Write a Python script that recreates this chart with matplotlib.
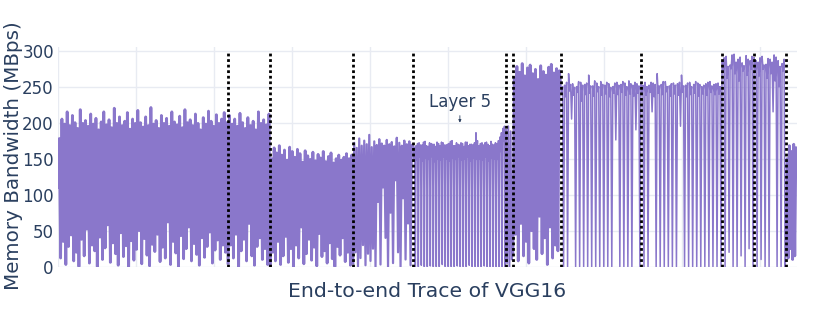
import numpy as np
import matplotlib
matplotlib.use("Agg")
import matplotlib.pyplot as plt

# ---------------- data ----------------
# layer boundaries (trace time units) and end of trace
boundaries = [2.18, 2.72, 3.78, 4.55, 5.74, 5.83, 6.44, 7.47, 8.51, 8.92, 9.33]
trace_end = 9.47

# dense segments (lo/hi alternating)
A_lo = [110, 12, 35, 3, 28, 44, 8, 20, 0, 38, 15, 52, 5, 30, 22, 0, 41, 10, 26, 58, 6, 33, 18, 2, 47, 14, 29, 0, 36, 9,
        24, 50, 4, 39, 16, 1, 31, 21, 45, 7, 27, 12, 62, 3, 35, 19, 0, 43, 11, 25, 55, 8, 32, 17, 2, 40, 13, 28, 48, 5,
        23, 37, 10, 30, 20]
A_hi = [178, 205, 198, 215, 196, 210, 200, 192, 218, 199, 203, 195, 212, 198, 206, 190, 201, 215, 197, 204, 193, 220,
        199, 208, 196, 202, 214, 191, 205, 199, 217, 200, 194, 208, 196, 221, 198, 203, 192, 210, 199, 206, 195, 215,
        201, 197, 209, 193, 218, 200, 204, 196, 212, 199, 190, 207, 198, 216, 202, 195, 211, 199, 205, 214, 200]
B_lo = [5, 30, 12, 45, 0, 22, 38, 8, 60, 15, 2, 28, 40, 10, 25, 3]
B_hi = [210, 198, 205, 195, 213, 200, 192, 207, 196, 202, 190, 215, 199, 204, 197, 212]
C_lo = [0, 20, 8, 35, 3, 15, 42, 6, 25, 0, 30, 12, 55, 4, 18, 38, 9, 27, 1, 46, 14, 22, 5, 33, 11, 0, 28, 16, 40, 7,
        20, 2]
C_hi = [150, 165, 158, 168, 155, 162, 148, 166, 160, 152, 163, 157, 145, 161, 154, 149, 159, 147, 156, 151, 160, 146,
        153, 158, 144, 150, 155, 148, 152, 157, 150, 155]
D_lo = [5, 20, 0, 12, 30, 2, 18, 8, 25, 0, 90, 3, 110, 40, 0, 75, 5, 120, 20, 0, 95, 10, 60, 2]
D_hi = [172, 165, 178, 168, 175, 170, 183, 166, 174, 169, 177, 171, 168, 176, 170, 173, 167, 179, 172, 168, 175, 170,
        174, 169]
# band segments: top / mid / top2 / dip per cycle
E_top = [170, 168, 172, 169, 174, 167, 171, 170, 173, 168, 172, 169, 171, 175, 168, 170, 172, 167, 173, 170, 169, 186,
         168, 172, 172, 170, 174, 169, 171, 180, 192]
E_mid = [150, 148, 152, 147, 151, 149, 153, 146, 150, 148, 152, 150, 147, 151, 149, 153, 148, 150, 152, 147, 151, 149,
         150, 148, 152, 147, 151, 150, 149, 160, 175]
E_top2 = [166, 171, 169, 173, 168, 172, 170, 167, 171, 173, 169, 170, 174, 168, 172, 169, 171, 173, 168, 170, 172, 175,
          171, 169, 173, 168, 170, 172, 175, 186, 195]
E_dip = [0, 0, 2, 0, 0, 1, 0, 0, 0, 3, 0, 0, 0, 0, 1, 0, 0, 0, 2, 0, 0, 0, 0, 1, 0, 0, 0, 0, 0, 0, 0]
F_vals = [190, 5, 195, 0, 188, 10]
G_lo = [20, 45, 8, 60, 15, 35, 5, 50, 25, 10, 70, 18, 40, 3, 55, 12, 30, 22]
G_hi = [262, 278, 270, 282, 265, 276, 280, 268, 274, 260, 279, 271, 266, 277, 281, 269, 275, 272]
H_top = [255, 252, 268, 254, 250, 256, 253, 266, 251, 255, 257, 252, 254, 250, 256, 253, 255, 258, 252, 254]
H_mid = [240, 236, 244, 238, 242, 230, 239, 241, 237, 243, 238, 240, 236, 241, 239, 242, 238, 240, 237, 241]
H_top2 = [250, 256, 253, 249, 257, 252, 255, 251, 258, 250, 253, 256, 249, 255, 252, 257, 250, 254, 256, 251]
H_dip = [0, 0, 205, 0, 0, 0, 0, 0, 0, 0, 0, 0, 0, 176, 0, 0, 0, 0, 190, 0]
I_top = [254, 256, 252, 255, 268, 253, 257, 251, 255, 254, 266, 252, 256, 253, 255, 250, 254, 257, 253, 255]
I_mid = [240, 238, 242, 236, 241, 239, 243, 237, 240, 238, 242, 236, 239, 241, 237, 240, 238, 242, 239, 240]
I_top2 = [252, 250, 256, 253, 251, 257, 250, 254, 252, 256, 251, 255, 250, 257, 253, 252, 256, 251, 254, 250]
I_dip = [0, 0, 215, 0, 0, 0, 0, 0, 0, 195, 0, 0, 0, 0, 0, 0, 0, 0, 0, 0]
J_top = [285, 292, 280, 295, 288, 283, 293, 286]
J_mid = [270, 262, 275, 268, 258, 272, 266, 274]
J_top2 = [290, 278, 294, 284, 291, 279, 288, 292]
J_dip = [0, 20, 0, 0, 15, 0, 25, 0]
K_top = [290, 284, 292, 281, 288, 294, 286, 282]
K_mid = [270, 265, 274, 262, 268, 258, 250, 272]
K_top2 = [286, 290, 280, 289, 284, 291, 278, 288]
K_dip = [0, 10, 0, 0, 215, 0, 0, 0]
L_lo = [20, 12, 25, 10, 15]
L_hi = [150, 168, 160, 170, 165]

annot_text = "Layer 5"
annot_x = 5.15
annot_y = 200
axis_title_x = "End-to-end Trace of VGG16"
axis_title_y = "Memory Bandwidth (MBps)"
y_ticks = [0, 50, 100, 150, 200, 250, 300]


def interleave(*cols):
    out = []
    for group in zip(*cols):
        out.extend(group)
    return out


# (values, line width) per segment
segments = [
    (interleave(A_lo, A_hi), 2.0),
    (interleave(B_lo, B_hi), 2.0),
    (interleave(C_lo, C_hi), 2.0),
    (interleave(D_lo, D_hi), 1.6),
    (interleave(E_top, E_mid, E_top2, E_dip), 1.1),
    (F_vals, 1.4),
    (interleave(G_lo, G_hi), 2.0),
    (interleave(H_top, H_mid, H_top2, H_dip), 1.1),
    (interleave(I_top, I_mid, I_top2, I_dip), 1.1),
    (interleave(J_top, J_mid, J_top2, J_dip), 1.1),
    (interleave(K_top, K_mid, K_top2, K_dip), 1.1),
    (interleave(L_lo, L_hi), 2.0),
]
edges = [0.0] + boundaries + [trace_end]

# ---------------- figure ----------------
W, H = 830, 313
fig = plt.figure(figsize=(W / 100, H / 100), dpi=100)
left, right, bottom_px, top_px = 58, 797, 266.7, 47.0
ax = fig.add_axes([left / W, (H - bottom_px) / H, (right - left) / W, (bottom_px - top_px) / H])

text_color = "#2a3f5f"
grid_color = "#e8ebf2"
line_color = "#8a77cb"

seg_x = []
for i, (vals, _) in enumerate(segments):
    seg_x.append(np.linspace(edges[i], edges[i + 1], len(vals), endpoint=False))
for i, (vals, lw) in enumerate(segments):
    xx = list(seg_x[i])
    yy = list(vals)
    if i + 1 < len(segments):  # connect to next segment
        xx.append(seg_x[i + 1][0])
        yy.append(segments[i + 1][0][0])
    ax.plot(xx, yy, color=line_color, lw=lw, zorder=2)

ax.vlines(boundaries, 0, 300, colors="black", linestyles=(0, (1, 1)), lw=2.0, zorder=3)

ax.set_xlim(0, trace_end)
ax.set_ylim(0, 305)
ax.set_yticks(y_ticks)
ax.set_xticks(np.arange(0, 10))
ax.tick_params(axis="x", length=0, labelbottom=False)
ax.tick_params(axis="y", length=0, labelsize=12, labelcolor=text_color, pad=3)
ax.grid(True, color=grid_color, lw=1.0, zorder=0)
ax.set_axisbelow(True)
for s in ax.spines.values():
    s.set_visible(False)

ax.set_xlabel(axis_title_x, fontsize=14.7, color=text_color, labelpad=11)
fig.text(13.5 / W, 1 - 156 / H, axis_title_y, rotation=90, ha="center", va="center",
         fontsize=14.3, color=text_color)

ax.annotate(annot_text, xy=(annot_x, annot_y), xytext=(annot_x, 228),
            ha="center", va="center", fontsize=12, color=text_color,
            arrowprops=dict(arrowstyle="-|>", color=text_color, lw=0.6,
                            mutation_scale=4, shrinkA=1, shrinkB=0))

fig.savefig("out.png", dpi=100)
